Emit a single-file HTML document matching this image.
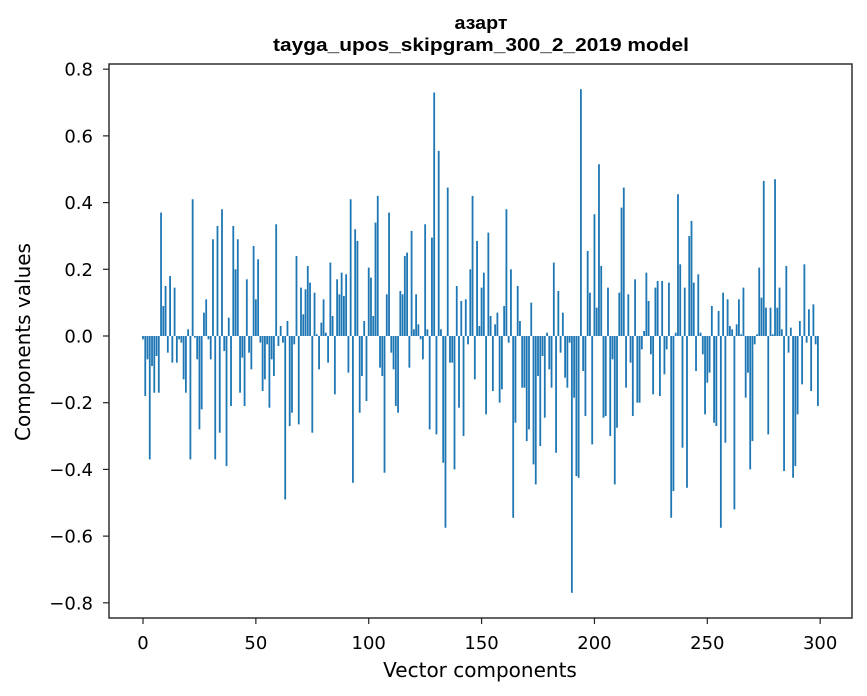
<!DOCTYPE html>
<html><head><meta charset="utf-8"><style>
body{margin:0;background:#fff;}
svg{display:block;font-family:"DejaVu Sans","Liberation Sans",sans-serif;}
</style></head><body>
<svg id="chart" width="867" height="696" viewBox="0 0 867 696" xmlns="http://www.w3.org/2000/svg">
<rect width="867" height="696" fill="#fff"/>
<text x="481" y="29" text-anchor="middle" font-size="18" font-weight="bold" fill="#000" font-family="Liberation Sans, sans-serif" textLength="53" lengthAdjust="spacingAndGlyphs">азарт</text>
<text x="481" y="51" text-anchor="middle" font-size="18" font-weight="bold" fill="#000" font-family="Liberation Sans, sans-serif" textLength="416" lengthAdjust="spacingAndGlyphs">tayga_upos_skipgram_300_2_2019 model</text>
<g id="bars"></g>
<g id="axes"></g>
<text x="480" y="677" text-anchor="middle" font-size="20" fill="#000">Vector components</text>
<text x="30" y="342" text-anchor="middle" font-size="20" fill="#000" transform="rotate(-90 30 342)">Components values</text>
</svg>
<script>
const values = [
-0.01,-0.18,-0.07,-0.37,-0.09,-0.17,-0.06,-0.17,0.37,0.09,
0.15,-0.05,0.18,-0.08,0.145,-0.08,-0.01,-0.02,-0.13,-0.17,
0.02,-0.37,0.41,-0.005,-0.07,-0.28,-0.22,0.07,0.11,-0.01,
-0.07,0.29,-0.37,0.33,-0.29,0.38,-0.045,-0.39,0.055,-0.21,
0.33,0.2,0.29,-0.17,-0.065,-0.21,0.17,-0.05,-0.1,0.27,
0.11,0.23,-0.02,-0.165,-0.13,-0.025,-0.215,-0.07,-0.12,0.335,
-0.03,0.03,-0.02,-0.49,0.045,-0.27,-0.23,-0.025,0.24,-0.265,
0.145,0.065,0.14,0.21,0.16,-0.29,0.13,0.005,-0.1,0.04,
0.11,0.01,-0.08,0.22,0.06,-0.175,0.17,0.125,0.19,0.12,
0.185,-0.11,0.41,-0.44,0.32,0.285,-0.23,-0.12,0.045,-0.195,
0.205,0.175,0.06,0.34,0.42,-0.095,-0.12,-0.41,0.125,0.37,
-0.05,-0.1,-0.21,-0.23,0.135,0.125,0.24,0.25,-0.095,0.315,
0.02,0.125,0.035,-0.01,-0.07,0.335,0.02,-0.28,0.295,0.73,
-0.295,0.555,0.02,-0.38,-0.575,0.445,-0.08,-0.08,-0.4,0.15,
-0.215,0.105,-0.3,0.11,-0.025,0.2,0.42,-0.13,0.285,0.03,
0.145,0.19,-0.235,0.31,0.06,-0.165,0.035,0.07,-0.2,-0.16,
0.09,0.38,-0.02,0.2,-0.545,-0.26,0.15,0.045,-0.155,-0.155,
-0.315,-0.28,0.1,-0.385,-0.445,-0.12,-0.33,-0.06,-0.245,0.01,
-0.1,-0.155,0.22,-0.35,0.135,-0.05,0.07,-0.125,-0.155,-0.02,
-0.77,-0.185,-0.42,-0.425,0.74,-0.105,-0.24,0.255,0.13,-0.325,
0.365,0.085,0.515,0.21,-0.245,-0.24,0.145,-0.3,-0.07,-0.445,
-0.275,0.13,0.385,0.445,-0.155,0.125,-0.08,-0.24,0.17,-0.2,
-0.2,-0.04,0.015,0.19,0.105,-0.055,-0.175,0.145,0.165,-0.18,
0.165,-0.115,-0.04,0.16,-0.545,-0.465,0.01,0.425,0.215,-0.335,
0.145,-0.455,0.3,0.345,0.16,-0.105,0.185,0.01,-0.055,-0.235,
-0.14,-0.11,0.09,-0.26,-0.27,0.075,-0.575,0.13,-0.32,0.11,
0.03,0.02,-0.52,0.035,0.11,0.005,0.145,-0.185,-0.11,-0.4,
-0.315,-0.025,0.005,0.205,0.115,0.465,0.085,-0.295,0.085,0.005,
0.47,0.085,0.145,0.02,-0.405,0.21,-0.05,0.025,-0.425,-0.39,
-0.235,0.045,-0.145,0.215,-0.02,0.08,-0.165,0.095,-0.025,-0.21
];
const xTicks = [0,50,100,150,200,250,300];
const yTicks = [-0.8,-0.6,-0.4,-0.2,0.0,0.2,0.4,0.6,0.8];

const L=109,R=852,T=64,B=618;
const xmin=-15.06,xmax=314.1,ymin=-0.8455,ymax=0.8155;
function sx(v){return L+(v-xmin)/(xmax-xmin)*(R-L);}
function sy(v){return T+(ymax-v)/(ymax-ymin)*(B-T);}
const NS="http://www.w3.org/2000/svg";
const bars=document.getElementById('bars');
values.forEach(function(v,i){
  const r=document.createElementNS(NS,'rect');
  const x0=sx(i-0.4),x1=sx(i+0.4);
  const y0=sy(Math.max(v,0)),y1=sy(Math.min(v,0));
  r.setAttribute('x',x0);r.setAttribute('width',x1-x0);
  r.setAttribute('y',y0);r.setAttribute('height',Math.max(y1-y0,0.3));
  r.setAttribute('fill','#1f77b4');
  
  
  bars.appendChild(r);
});
const ax=document.getElementById('axes');
function el(tag,attrs,txt){const e=document.createElementNS(NS,tag);for(const k in attrs)e.setAttribute(k,attrs[k]);if(txt!==undefined)e.textContent=txt;ax.appendChild(e);return e;}
const frame=el('rect',{x:L,y:T,width:R-L,height:B-T,fill:'none',stroke:'#222','stroke-width':1.4});


xTicks.forEach(function(t){
  const x=sx(t);
  const tk=el('line',{x1:x,x2:x,y1:B,y2:B+6,stroke:'#222','stroke-width':1.2});
  
  
  const lb=el('text',{x:x,y:B+31,'text-anchor':'middle','font-size':18,fill:'#000'},String(t));
  
  
});
yTicks.forEach(function(t){
  const y=sy(t);
  const tk=el('line',{x1:L-6,x2:L,y1:y,y2:y,stroke:'#222','stroke-width':1.2});
  
  
  const s=(t<0?'\u2212':'')+Math.abs(t).toFixed(1);
  const lb=el('text',{x:L-16,y:y+6.5,'text-anchor':'end','font-size':18,fill:'#000'},s);
  
  
});
</script>
</body></html>
